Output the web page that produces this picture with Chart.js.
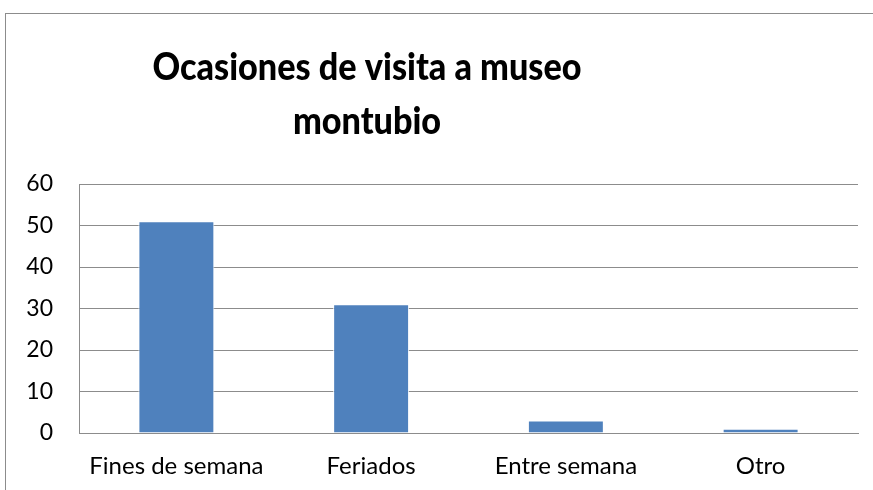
<!DOCTYPE html>
<html>
<head>
<meta charset="utf-8">
<script src="https://cdn.jsdelivr.net/npm/chart.js@4"></script>
<style>
  html, body { margin: 0; padding: 0; background: #fff; }
  #wrap { position: relative; width: 873px; height: 490px; overflow: hidden; }
  #marco { position: absolute; left: 5px; top: 13px; right: -2px; bottom: -2px;
           border-left: 1px solid #8c8c8c; border-top: 1px solid #8c8c8c; }
  canvas { position: absolute; left: 0; top: 0; }
</style>
</head>
<body>
<div id="wrap">
  <div id="marco"></div>
  <canvas id="grafico" width="873" height="490"></canvas>
</div>
<script>
const categorias = ['Fines de semana', 'Feriados', 'Entre semana', 'Otro'];
const visitas = [51, 31, 3, 1];
const titulo = ['Ocasiones de visita a museo', 'montubio'];
const ejeY = { min: 0, max: 60, paso: 10 };

const AZUL = '#4f81bd';
const GRIS = '#8c8c8c';
const FUENTE = 'Lato, Carlito, Calibri, sans-serif';

// título dibujado a mano: algo comprimido en ancho para que se vea más alto
const tituloPlugin = {
  id: 'tituloManual',
  afterDraw(chart) {
    const ctx = chart.ctx;
    const escala = 0.9;
    ctx.save();
    ctx.fillStyle = '#000';
    ctx.font = `900 38px ${FUENTE}`;
    ctx.textAlign = 'center';
    ctx.textBaseline = 'alphabetic';
    ctx.scale(escala, 1);
    titulo.forEach((linea, i) => ctx.fillText(linea, 367 / escala, 80 + i * 54));
    ctx.restore();
  }
};

new Chart(document.getElementById('grafico'), {
  type: 'bar',
  data: {
    labels: categorias,
    datasets: [{
      label: 'Visitas',
      data: visitas,
      backgroundColor: AZUL,
      borderColor: 'rgba(255,255,255,0.9)',
      borderWidth: 1,
      categoryPercentage: 1,
      barPercentage: 0.39
    }]
  },
  options: {
    responsive: false,
    animation: false,
    layout: { padding: { top: 184, right: 15, left: 0, bottom: 0 } },
    plugins: {
      legend: { display: false },
      title: { display: false },
      tooltip: { enabled: false }
    },
    scales: {
      x: {
        grid: { display: false, drawTicks: false },
        border: { color: GRIS, width: 1 },
        ticks: { color: '#000', padding: 19, font: { family: FUENTE, size: 24 } },
        afterFit: scale => { scale.height = 57; }
      },
      y: {
        min: ejeY.min,
        max: ejeY.max,
        ticks: { stepSize: ejeY.paso, color: '#000', padding: 26, font: { family: FUENTE, size: 23 } },
        grid: { color: GRIS, lineWidth: 1, drawTicks: false },
        border: { color: GRIS, width: 1 },
        afterFit: scale => { scale.width = 79; }
      }
    }
  },
  plugins: [tituloPlugin]
});
</script>
</body>
</html>
